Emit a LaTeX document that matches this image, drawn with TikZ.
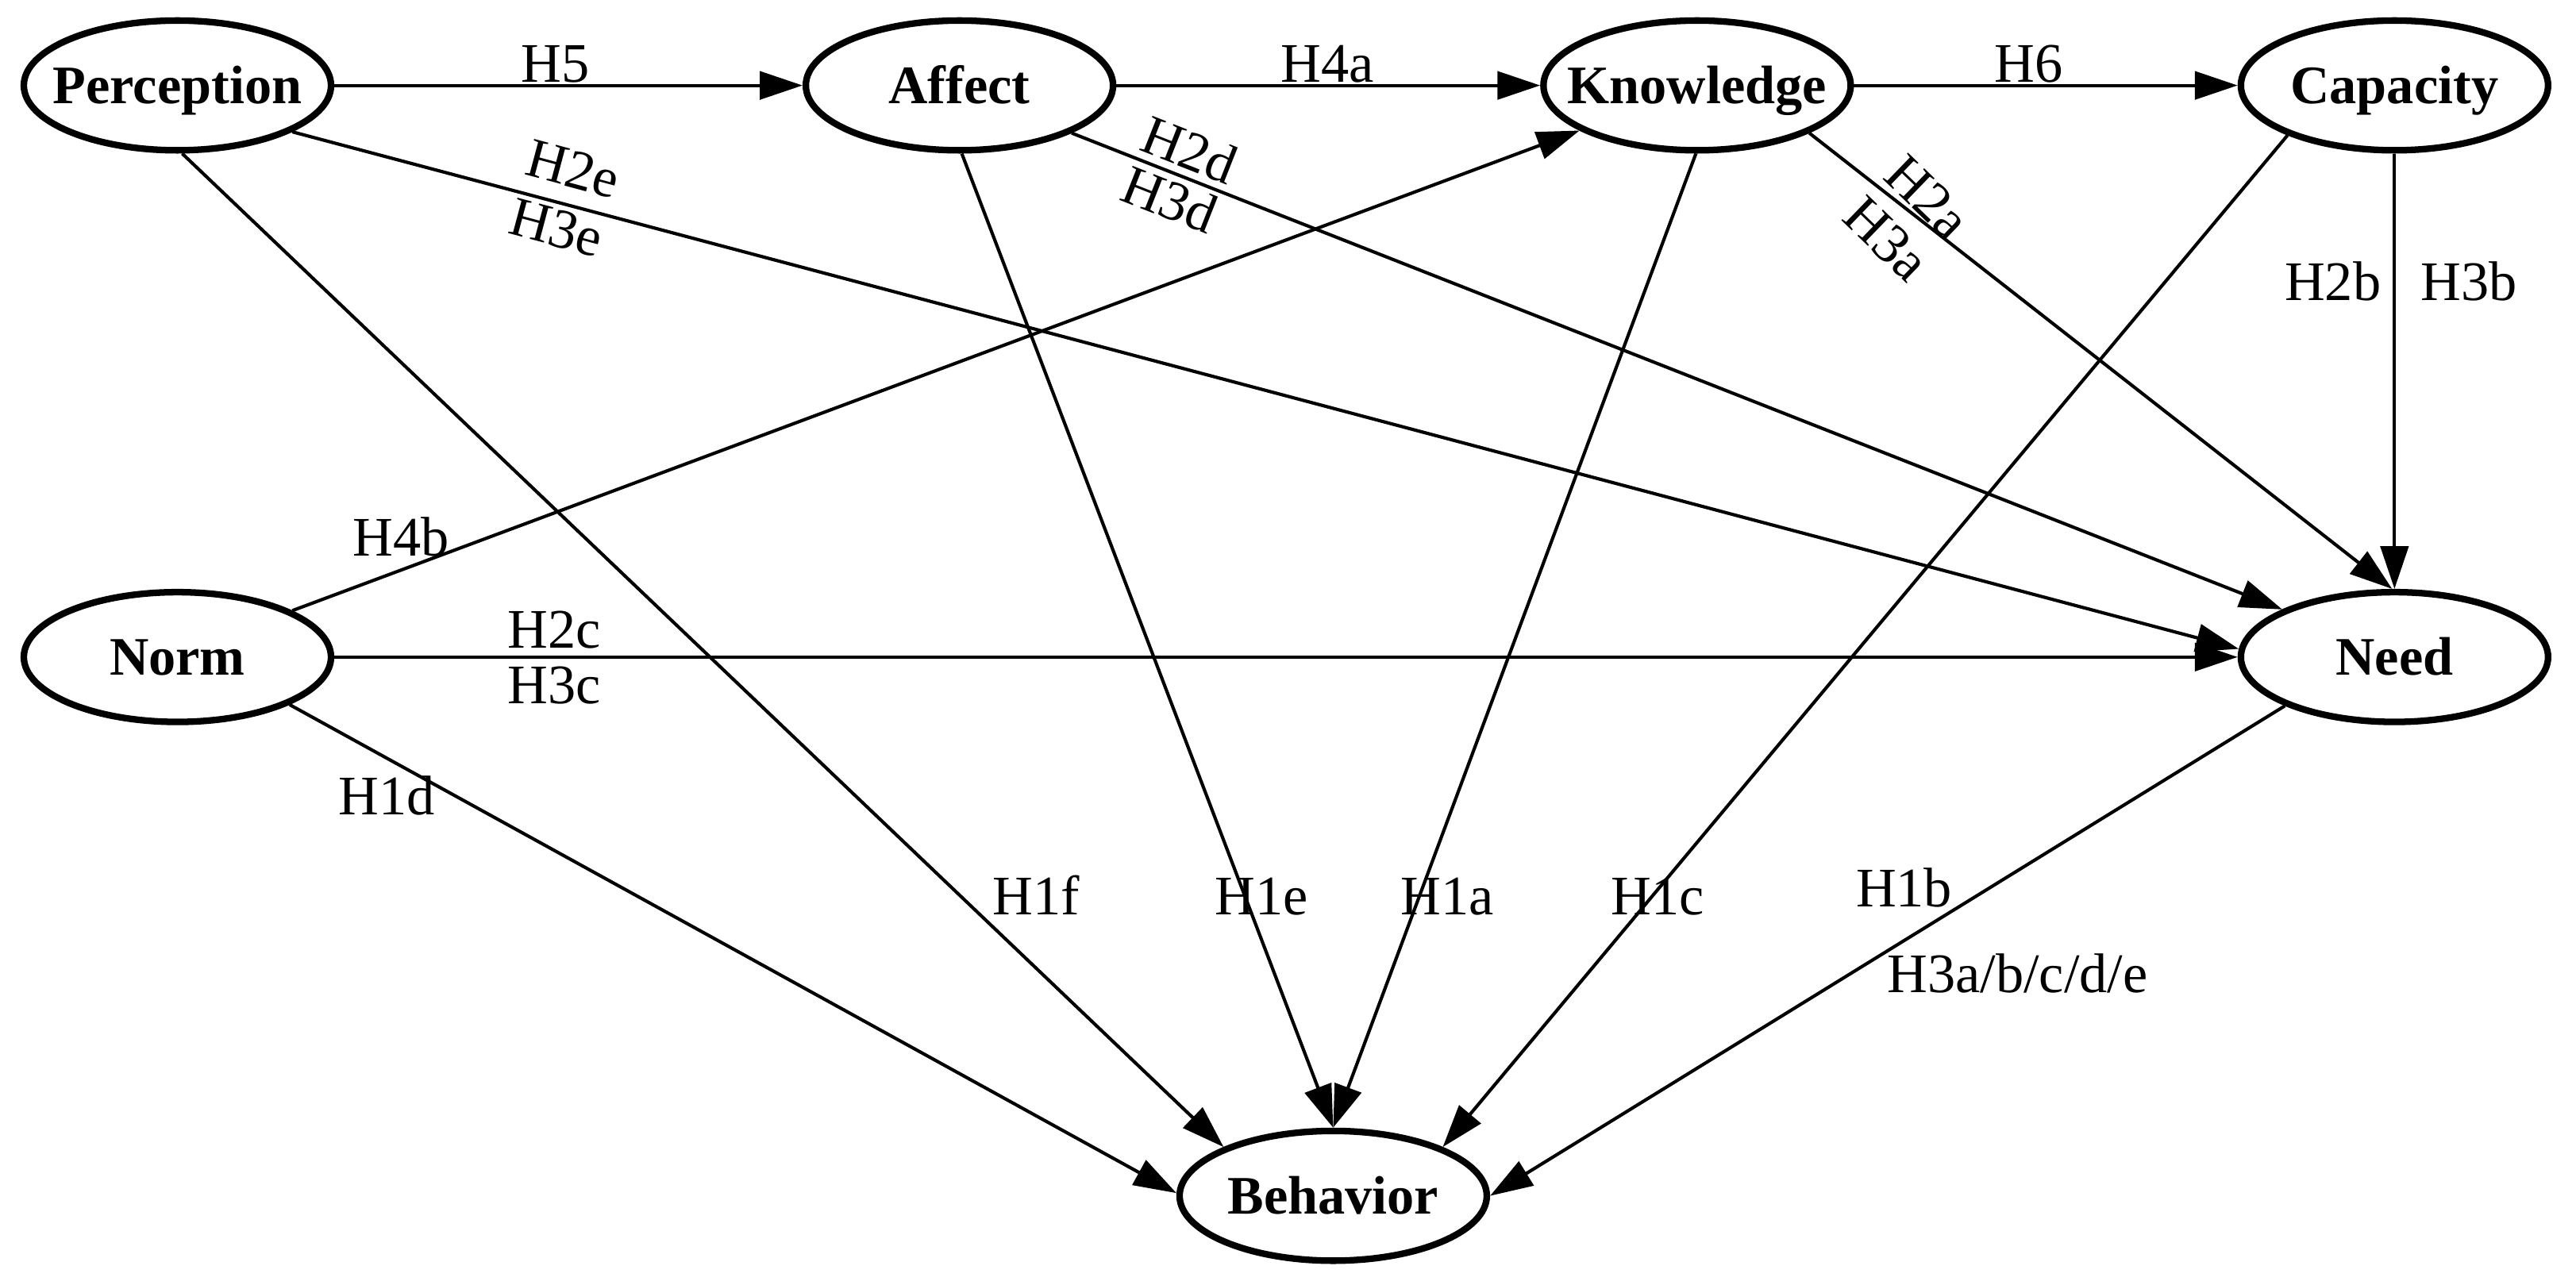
\documentclass[tikz,border=0pt]{standalone}
\usepackage{fontspec}
\setmainfont{Liberation Serif}
\usetikzlibrary{shapes.geometric,arrows.meta}
\newcommand{\vname}[1]{\makebox[0pt]{#1}}
\begin{document}
\begin{tikzpicture}[x=1pt,y=-1pt,
  var/.style={draw, ellipse, line width=4pt, minimum width=187pt, minimum height=79pt,
    inner sep=0pt, text height=21.8pt, text depth=0pt,
    font=\fontsize{33}{36}\selectfont\bfseries},
  lab/.style={inner sep=0pt, font=\fontsize{34}{38}\selectfont},
  rlab/.style={lab, text height=22.5pt, text depth=0pt},
  edge/.style={line width=2pt, -{Triangle[length=26pt,width=17pt]}}
]
\useasboundingbox (0,0) rectangle (1568,782);
% variables
\node[var] (P)  at (108,52)    {\vname{Perception}};
\node[var] (A)  at (584,52)    {\vname{Affect}};
\node[var] (K)  at (1033,52)   {\vname{Knowledge}};
\node[var] (C)  at (1457.5,52) {\vname{Capacity}};
\node[var] (Nm) at (108,400)   {\vname{Norm}};
\node[var] (Nd) at (1457.5,400){\vname{Need}};
\node[var] (B)  at (811.5,728) {\vname{Behavior}};
% connectors
\draw[edge] (P.east) -- (A.west);
\draw[edge] (A.east) -- (K.west);
\draw[edge] (K.east) -- (C.west);
\draw[edge] (C.south) -- (Nd.north);
\draw[edge] (Nm.east) -- (Nd.west);
\draw[edge] (P.-22.6) -- (Nd.177);
\draw[edge] (P.-86) -- (B.156);
\draw[edge] (A.-23.5) -- (Nd.157.4);
\draw[edge] (A.-88) -- (B.north);
\draw[edge] (K.-91) -- (B.north);
\draw[edge] (K.-23.9) -- (Nd.92);
\draw[edge] (C.-155) -- (B.24.7);
\draw[edge] (Nm.22.3) -- (K.201.7);
\draw[edge] (Nm.-23.5) -- (B.179);
\draw[edge] (Nd.204) -- (B.east);
% labels
\node[lab, anchor=base] (l5)  at (338,50)   {H5};
\node[lab, anchor=base] (l4a) at (808,50)   {H4a};
\node[lab, anchor=base] (l6)  at (1235,50)  {H6};
\node[lab, anchor=base] (l2b) at (1420,182.7) {H2b};
\node[lab, anchor=base] (l3b) at (1503,182.7) {H3b};
\node[lab, anchor=base] (l4b) at (244,338.3) {H4b};
\node[lab, anchor=base] (l2c) at (337.5,394.6) {H2c};
\node[lab, anchor=base] (l3c) at (337.5,428.4) {H3c};
\node[lab, anchor=base] (l1d) at (235.6,496) {H1d};
\node[lab, anchor=base] (l1f) at (630.6,557) {H1f};
\node[lab, anchor=base] (l1e) at (767.8,557) {H1e};
\node[lab, anchor=base] (l1a) at (881,557)   {H1a};
\node[lab, anchor=base] (l1c) at (1009,557)  {H1c};
\node[lab, anchor=base] (l1b) at (1159,552)  {H1b};
\node[lab, anchor=base] (l3all) at (1228,604) {H3a/b/c/d/e};
\node[rlab, rotate=-15] (l2e) at (349,102.7) {H2e};
\node[rlab, rotate=-15] (l3e) at (338.6,138.5) {H3e};
\node[rlab, rotate=-21.5] (l2d) at (724,91.4) {H2d};
\node[rlab, rotate=-21.5] (l3d) at (712,121.6) {H3d};
\node[rlab, rotate=-44] (l2a) at (1173.4,120) {H2a};
\node[rlab, rotate=-44] (l3a) at (1148.4,145.3) {H3a};
\end{tikzpicture}
\end{document}
